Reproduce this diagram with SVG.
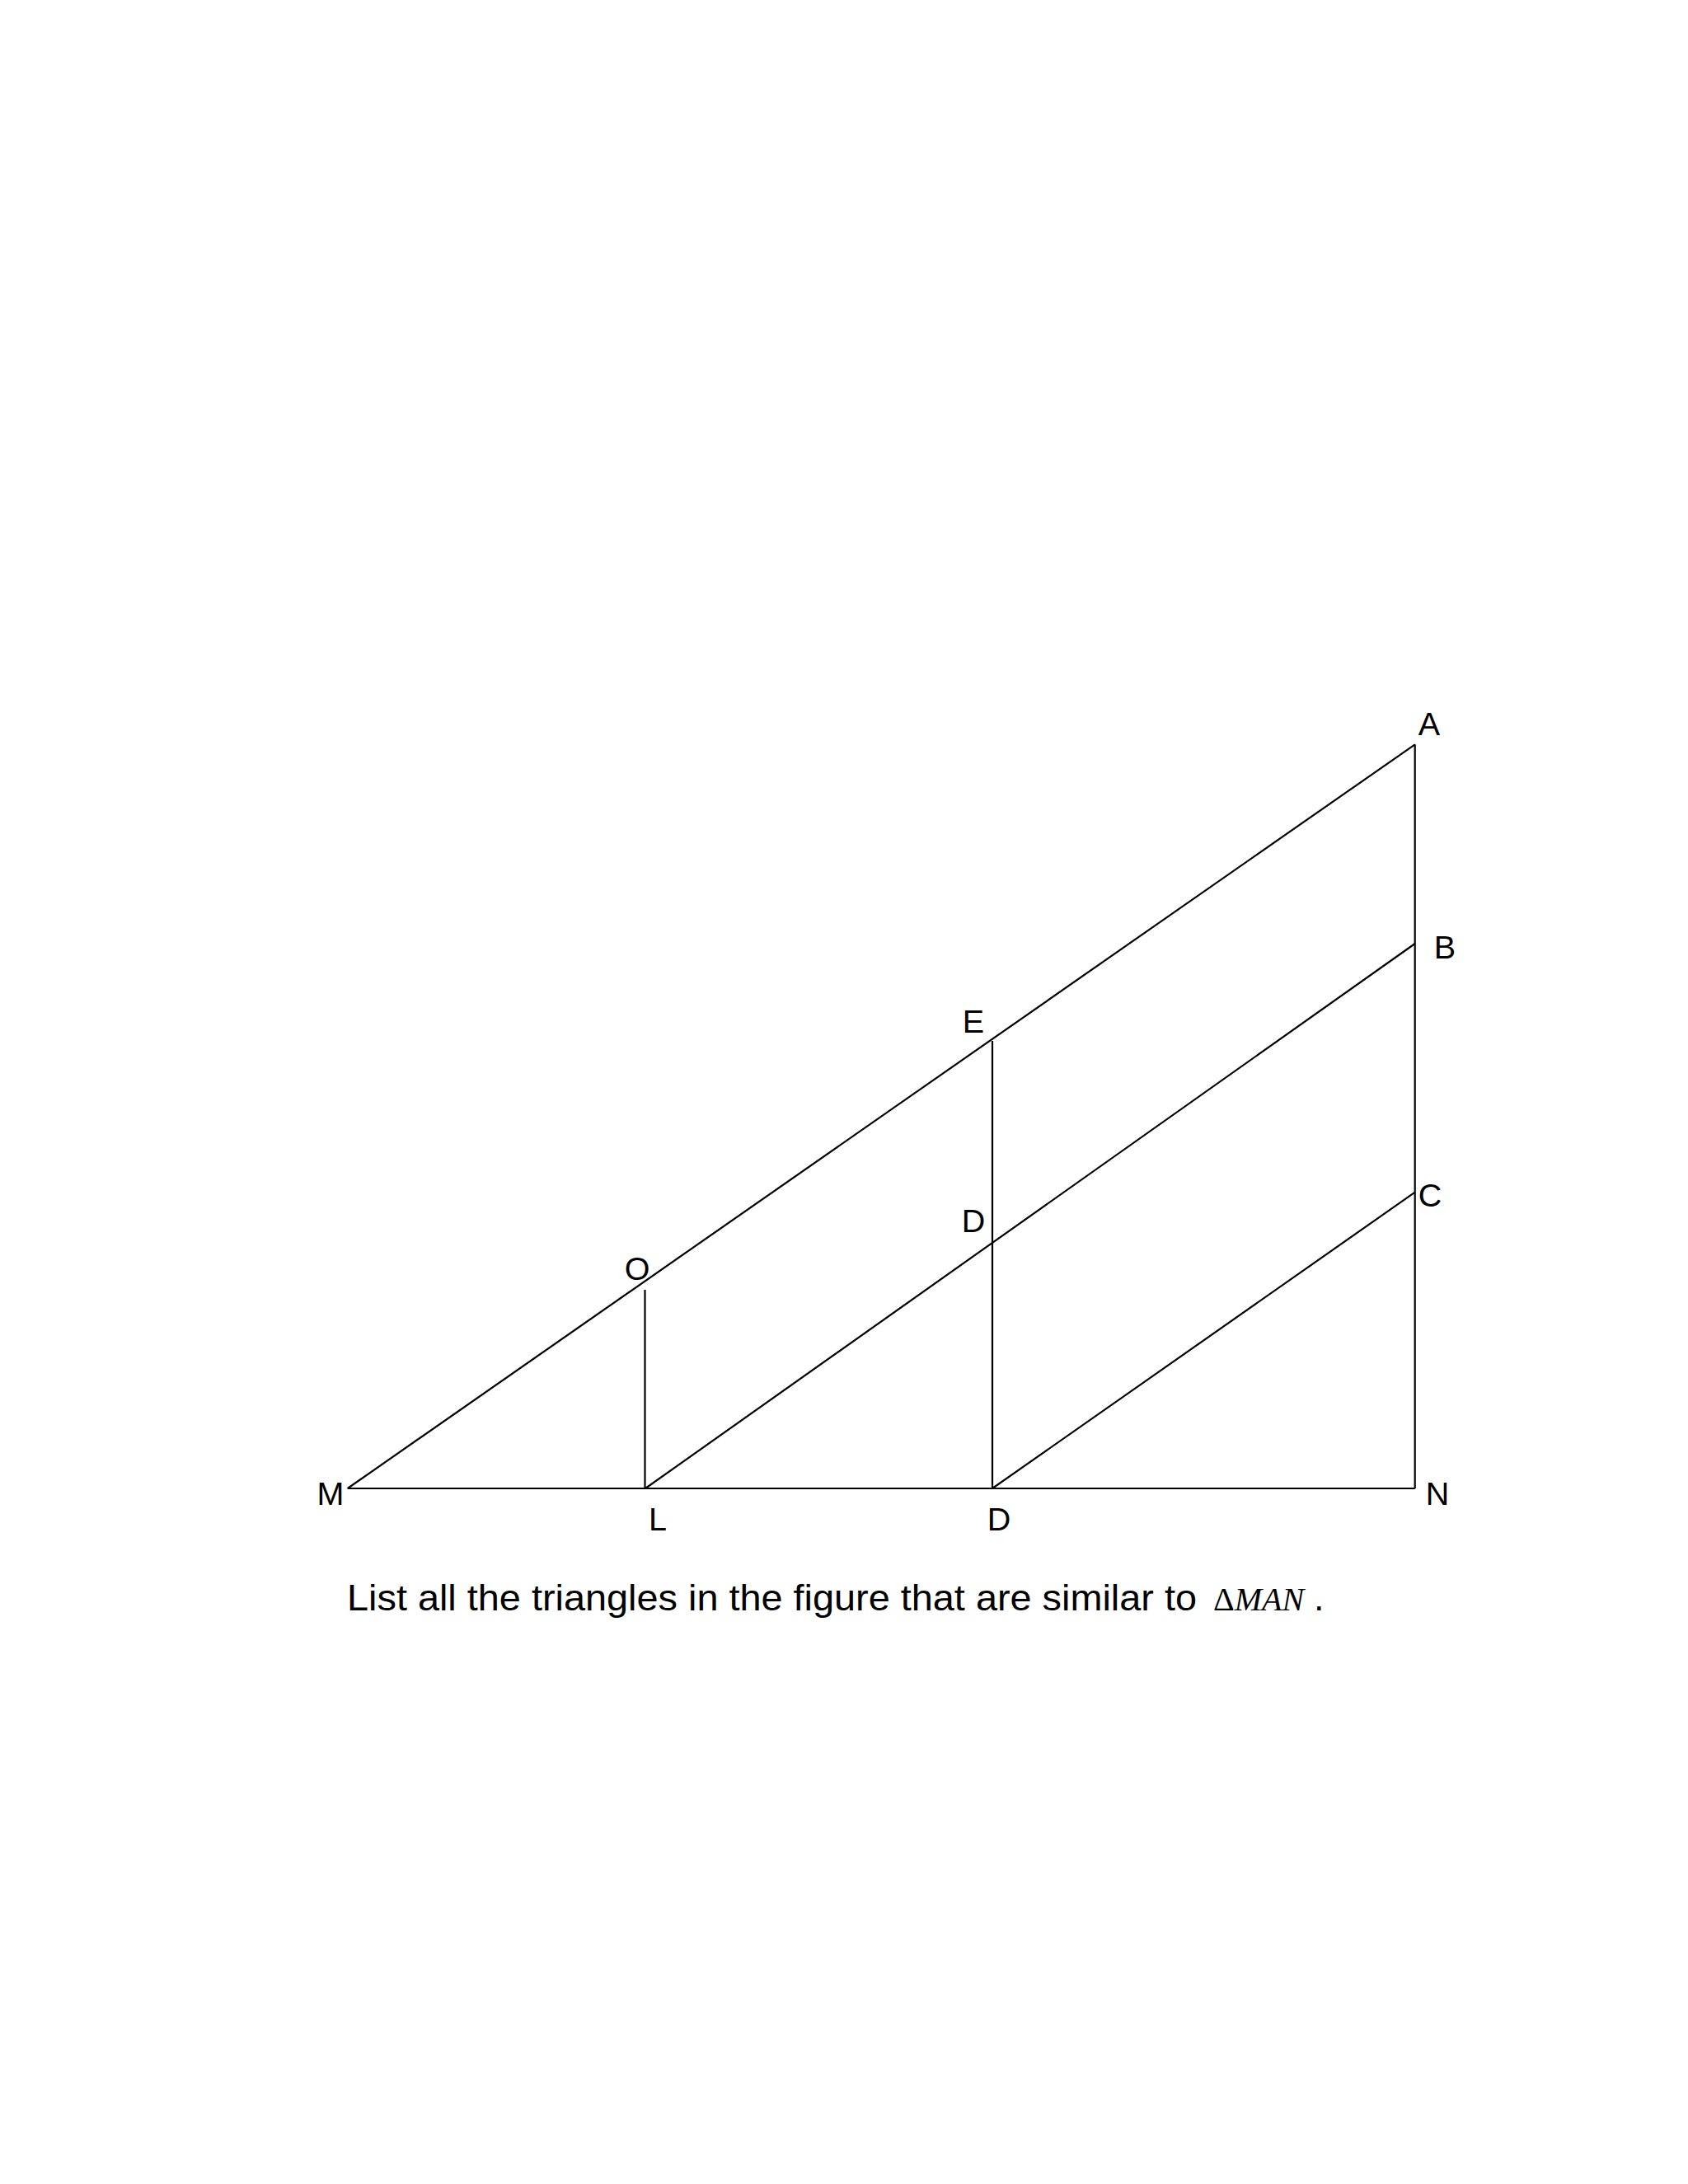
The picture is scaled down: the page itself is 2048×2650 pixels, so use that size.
<svg xmlns="http://www.w3.org/2000/svg" width="2048" height="2650" viewBox="0 0 2048 2650">
<style>
.ln{stroke:#000;stroke-width:2.2;fill:none;stroke-linecap:butt}
.lb{font-family:"Liberation Sans",Arial,sans-serif;font-size:39.5px;fill:#000;text-anchor:middle}
.cap{font-family:"Liberation Sans",Arial,sans-serif;font-size:45px;fill:#000}
.math{font-family:"Liberation Serif","Times New Roman",serif;font-size:40px;font-style:italic;fill:#000}
</style>
<rect width="2048" height="2650" fill="#fff"/>
<g id="connectors">
<line class="ln" x1="421.7" y1="1806" x2="1716.7" y2="903.3"/>
<line class="ln" x1="421.7" y1="1806" x2="1716.7" y2="1806"/>
<line class="ln" x1="1716.7" y1="903.3" x2="1716.7" y2="1806"/>
<line class="ln" x1="783" y1="1806" x2="1716.7" y2="1145"/>
<line class="ln" x1="1204" y1="1806" x2="1716.7" y2="1446.7"/>
<line class="ln" x1="782.5" y1="1565" x2="782.5" y2="1806"/>
<line class="ln" x1="1204" y1="1263" x2="1204" y2="1806"/>
</g>
<g id="M"><text class="lb" x="401" y="1826">M</text></g>
<g id="L"><text class="lb" x="798" y="1857">L</text></g>
<g id="D-bottom"><text class="lb" x="1212" y="1857">D</text></g>
<g id="N"><text class="lb" x="1744" y="1826">N</text></g>
<g id="A"><text class="lb" x="1734" y="892">A</text></g>
<g id="B"><text class="lb" x="1753" y="1163">B</text></g>
<g id="C"><text class="lb" x="1735" y="1464">C</text></g>
<g id="E"><text class="lb" x="1181" y="1253">E</text></g>
<g id="D-mid"><text class="lb" x="1181" y="1495">D</text></g>
<g id="O"><text class="lb" x="773" y="1553">O</text></g>
<g id="caption">
<text class="cap" x="421" y="1954" textLength="1031" lengthAdjust="spacingAndGlyphs">List all the triangles in the figure that are similar to</text>
<text class="math" x="1472" y="1954"><tspan font-style="normal">Δ</tspan>MAN</text>
<text class="cap" x="1594" y="1954">.</text>
</g>
</svg>
